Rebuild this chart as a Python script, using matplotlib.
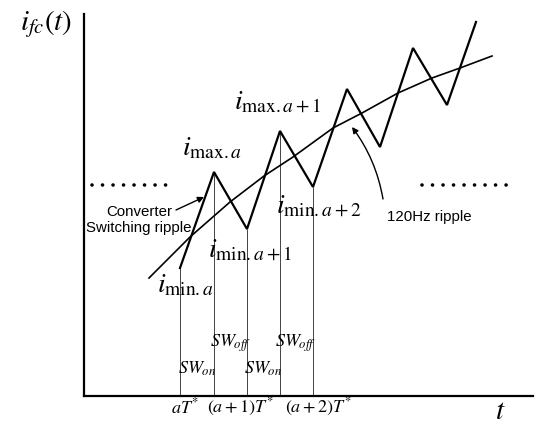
import matplotlib

matplotlib.use("Agg")
import matplotlib.pyplot as plt
from matplotlib.patches import FancyArrowPatch

plt.rcParams["mathtext.fontset"] = "stix"
plt.rcParams["font.family"] = ["Liberation Serif", "DejaVu Serif"]

# switching waveform vertices (time, current) in arbitrary drawing units
zig_t = [96, 130, 163, 196, 229, 263, 296, 329, 363, 392]
zig_i = [128, 224, 167, 265, 209, 307, 249, 348, 291, 374]

# slow 120Hz ripple
ripple_t = [65, 106, 146, 180, 209, 249, 278, 314, 348, 376, 408]
ripple_i = [118, 159, 194, 220, 239, 268, 283, 303, 318, 328, 340]

# peak / valley labels
pk_labels = [r"$i_{\mathrm{max}.a}$", r"$i_{\mathrm{max}.a+1}$",
             r"$i_{\mathrm{min}.a}$", r"$i_{\mathrm{min}.a+1}$", r"$i_{\mathrm{min}.a+2}$"]
pk_pos = [(128, 247), (194, 294), (101, 110), (166, 146), (235, 190)]

sw_labels = [r"$SW_{on}$", r"$SW_{off}$", r"$SW_{on}$", r"$SW_{off}$"]
sw_pos = [(113, 27), (147, 53), (179, 27), (212, 53)]

period_labels = [r"$aT^{*}$", r"$(a+1)T^{*}$", r"$(a+2)T^{*}$"]
period_t = [101, 156, 234]

fig = plt.figure(figsize=(5.45, 4.25), dpi=100)
W, H = 545, 425
ax = fig.add_axes([84 / W, (H - 396) / H, (533 - 84) / W, (396 - 14) / H])
ax.set_xlim(0, 449)
ax.set_ylim(0, 382)
ax.set_xticks([])
ax.set_yticks([])
for s in ["top", "right"]:
    ax.spines[s].set_visible(False)
for s in ["left", "bottom"]:
    ax.spines[s].set_linewidth(1.6)

# thin guides from the time axis to the first switching points
ax.vlines(zig_t[:5], 0, zig_i[:5], color="#444444", lw=0.7)

ax.plot(ripple_t, ripple_i, color="black", lw=1.2, solid_joinstyle="round")
ax.plot(zig_t, zig_i, color="black", lw=1.6, solid_joinstyle="miter")

# dotted "continues" marks
dots = dict(color="black", lw=2.6, linestyle=(0, (0.01, 2.9)), dash_capstyle="round")
ax.plot([8, 91], [211, 211], **dots)
ax.plot([338, 429], [211, 211], **dots)

for lab, (x, y) in zip(pk_labels, pk_pos):
    ax.text(x, y, lab, fontsize=20, ha="center", va="center")
for lab, (x, y) in zip(sw_labels, sw_pos):
    ax.text(x, y, lab, fontsize=13, ha="center", va="center")
for lab, x in zip(period_labels, period_t):
    ax.text(x, -11, lab, fontsize=13, ha="center", va="center", clip_on=False)

ax.text(-38, 372, r"$i_{fc}(t)$", fontsize=21, ha="center", va="center", clip_on=False)
ax.text(416, -16, r"$t$", fontsize=21, ha="center", va="center", clip_on=False)

ax.text(55, 176, "Converter\nSwitching ripple", fontsize=10.8, ha="center", va="center",
        family=["Liberation Sans", "DejaVu Sans"], linespacing=1.25)
ax.annotate("", xy=(120, 199), xytext=(92, 186),
            arrowprops=dict(arrowstyle="-|>", color="black", lw=1.0,
                            mutation_scale=9, shrinkA=0, shrinkB=0))

ax.text(345, 179, "120Hz ripple", fontsize=10.8, ha="center", va="center",
        family=["Liberation Sans", "DejaVu Sans"])
ax.add_patch(FancyArrowPatch((299, 197), (268, 269), arrowstyle="-|>", mutation_scale=9,
                             connectionstyle="arc3,rad=0.12", color="black", lw=1.0,
                             shrinkA=0, shrinkB=0))

fig.savefig("out.png", dpi=100)
